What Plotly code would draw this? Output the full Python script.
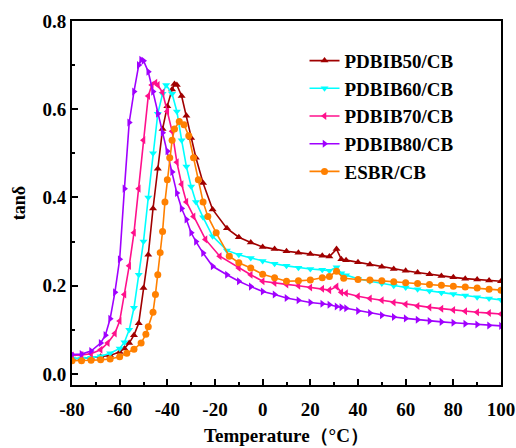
import plotly.graph_objects as go

# PDBIB50/CB
t50 = [-80, -76, -72, -68, -64, -60, -58, -56, -54, -52, -50, -48, -46, -44, -42, -40, -38, -37, -36, -34, -32, -30, -28, -25, -21, -15,
       -10, -5, 0, 5, 10, 15, 20, 25, 28, 31, 33, 35, 40, 45, 50, 55, 60, 65, 70, 75, 80, 85, 90, 95, 100]
v50 = [0.035, 0.035, 0.037, 0.039, 0.042, 0.050, 0.058, 0.070, 0.088, 0.115, 0.195, 0.270, 0.375, 0.465, 0.555, 0.607, 0.645, 0.657, 0.655, 0.630, 0.585, 0.535, 0.490, 0.433, 0.373, 0.330,
       0.310, 0.298, 0.288, 0.283, 0.278, 0.275, 0.272, 0.268, 0.266, 0.283, 0.260, 0.258, 0.253, 0.248, 0.243, 0.238, 0.234, 0.230, 0.226, 0.222, 0.219, 0.216, 0.214, 0.212, 0.210]

# PDBIB60/CB
t60 = [-80, -76, -72, -68, -64, -60, -58, -56, -54, -52, -50, -48, -46, -44, -42, -40.5, -38, -36, -34, -32, -30, -28, -25, -21, -15,
       -10, -5, 0, 5, 10, 15, 20, 25, 28, 31, 33, 35, 40, 45, 50, 55, 60, 65, 70, 75, 80, 85, 90, 95, 100]
v60 = [0.035, 0.035, 0.037, 0.040, 0.047, 0.058, 0.072, 0.100, 0.150, 0.225, 0.300, 0.400, 0.500, 0.590, 0.635, 0.655, 0.635, 0.595, 0.530, 0.470, 0.425, 0.390, 0.355, 0.312, 0.280,
       0.270, 0.263, 0.256, 0.250, 0.245, 0.241, 0.238, 0.236, 0.234, 0.242, 0.228, 0.224, 0.216, 0.210, 0.205, 0.200, 0.196, 0.192, 0.188, 0.184, 0.181, 0.178, 0.174, 0.171, 0.168]

# PDBIB70/CB
t70 = [-80, -76, -72, -68, -65, -62, -60, -58, -56, -54, -52, -50, -48, -46.5, -45, -44, -42, -40, -38, -36, -34, -32, -29, -24, -18,
       -10, -5, 0, 5, 10, 15, 20, 25, 28, 31, 33, 35, 40, 45, 50, 55, 60, 65, 70, 75, 80, 85, 90, 95, 100]
v70 = [0.042, 0.043, 0.046, 0.055, 0.070, 0.092, 0.120, 0.180, 0.245, 0.320, 0.420, 0.530, 0.630, 0.655, 0.660, 0.655, 0.638, 0.595, 0.550, 0.480, 0.430, 0.390, 0.357, 0.305, 0.267,
       0.240, 0.225, 0.210, 0.206, 0.203, 0.200, 0.196, 0.193, 0.190, 0.198, 0.185, 0.183, 0.176, 0.171, 0.167, 0.162, 0.158, 0.154, 0.151, 0.148, 0.145, 0.142, 0.140, 0.138, 0.136]

# PDBIB80/CB
t80 = [-80, -76, -72, -68, -66, -64, -62, -60, -58, -56, -54, -52, -51, -50, -48, -46, -44, -42, -40, -38, -36, -34, -32, -30, -28, -25, -21, -15,
       -10, -5, 0, 5, 10, 15, 20, 25, 28, 31, 33, 35, 40, 45, 50, 55, 60, 65, 70, 75, 80, 85, 90, 95, 100]
v80 = [0.044, 0.045, 0.052, 0.070, 0.088, 0.125, 0.185, 0.260, 0.420, 0.570, 0.640, 0.700, 0.712, 0.710, 0.685, 0.640, 0.590, 0.547, 0.505, 0.458, 0.410, 0.375, 0.350, 0.320, 0.300, 0.274, 0.244, 0.225,
       0.210, 0.198, 0.187, 0.180, 0.172, 0.167, 0.162, 0.159, 0.157, 0.153, 0.151, 0.149, 0.143, 0.138, 0.133, 0.129, 0.126, 0.123, 0.120, 0.118, 0.116, 0.114, 0.112, 0.110, 0.109]

# ESBR/CB
te = [-80, -76, -72, -68, -64, -60, -57, -54, -51, -49, -48, -46, -45, -44, -43, -42, -41, -40, -39, -38, -37, -35, -33, -31, -29, -27, -25, -23, -19.5, -14,
      -10, -5, 0, 5, 10, 15, 20, 25, 28, 31, 34, 40, 45, 50, 55, 60, 65, 70, 75, 80, 85, 90, 95, 100]
ve = [0.030, 0.030, 0.031, 0.032, 0.034, 0.039, 0.047, 0.056, 0.070, 0.090, 0.107, 0.140, 0.180, 0.225, 0.275, 0.323, 0.390, 0.440, 0.490, 0.530, 0.555, 0.572, 0.565, 0.540, 0.490, 0.440, 0.390, 0.357, 0.320, 0.267,
      0.252, 0.240, 0.226, 0.218, 0.210, 0.211, 0.213, 0.218, 0.221, 0.233, 0.217, 0.214, 0.213, 0.211, 0.209, 0.207, 0.205, 0.203, 0.201, 0.199, 0.197, 0.195, 0.192, 0.190]

names = ["PDBIB50/CB", "PDBIB60/CB", "PDBIB70/CB", "PDBIB80/CB", "ESBR/CB"]
colors = ["#A00000", "#00FFFF", "#FF108C", "#A000FF", "#FF8000"]
symbols = ["triangle-up", "triangle-down", "triangle-left", "triangle-right", "circle"]
xs = [t50, t60, t70, t80, te]
ys = [v50, v60, v70, v80, ve]

x_ticks = [-80, -60, -40, -20, 0, 20, 40, 60, 80, 100]
y_ticks = [0.0, 0.2, 0.4, 0.6, 0.8]

FONT = "Liberation Serif"

fig = go.Figure()
for n, c, s, x, y in zip(names, colors, symbols, xs, ys):
    fig.add_trace(go.Scatter(
        x=x, y=y, name=n, mode="lines+markers",
        line=dict(color=c, width=1.6),
        marker=dict(symbol=s, size=7, color=c),
    ))

fig.update_layout(
    width=516, height=448,
    margin=dict(l=72, r=15, t=21, b=63),
    paper_bgcolor="white", plot_bgcolor="white",
    font=dict(family=FONT, color="black"),
    showlegend=True,
    legend=dict(
        x=0.542, y=0.943, xanchor="left", yanchor="top",
        bgcolor="rgba(0,0,0,0)",
        font=dict(family=FONT, size=19, color="black", weight="bold"),
        itemwidth=30, tracegroupgap=0,
    ),
)
fig.update_xaxes(
    range=[-80, 100], tickvals=x_ticks, ticktext=[str(v) for v in x_ticks],
    automargin=False,
    showgrid=False, zeroline=False,
    showline=True, linecolor="black", linewidth=2, mirror=True,
    ticks="inside", ticklen=6, tickwidth=2, tickcolor="black",
    minor=dict(ticks="inside", ticklen=3, tickwidth=2, tickcolor="black", dtick=10, tick0=-80),
    tickfont=dict(family=FONT, size=19, color="black", weight="bold"),
    ticklabelstandoff=6,
    title=dict(text="Temperature（°C）", font=dict(family=FONT, size=19, color="black", weight="bold"), standoff=10),
)
fig.update_yaxes(
    range=[-0.025, 0.8], tickvals=y_ticks, ticktext=[f"{v:.1f}" for v in y_ticks],
    automargin=False,
    showgrid=False, zeroline=False,
    showline=True, linecolor="black", linewidth=2, mirror=True,
    ticks="inside", ticklen=6, tickwidth=2, tickcolor="black",
    minor=dict(ticks="inside", ticklen=3, tickwidth=2, tickcolor="black", dtick=0.1, tick0=0),
    tickfont=dict(family=FONT, size=19, color="black", weight="bold"),
    title=dict(text="tanδ", font=dict(family=FONT, size=18, color="black", weight="bold"), standoff=12),
)

fig.write_html("out.html")
